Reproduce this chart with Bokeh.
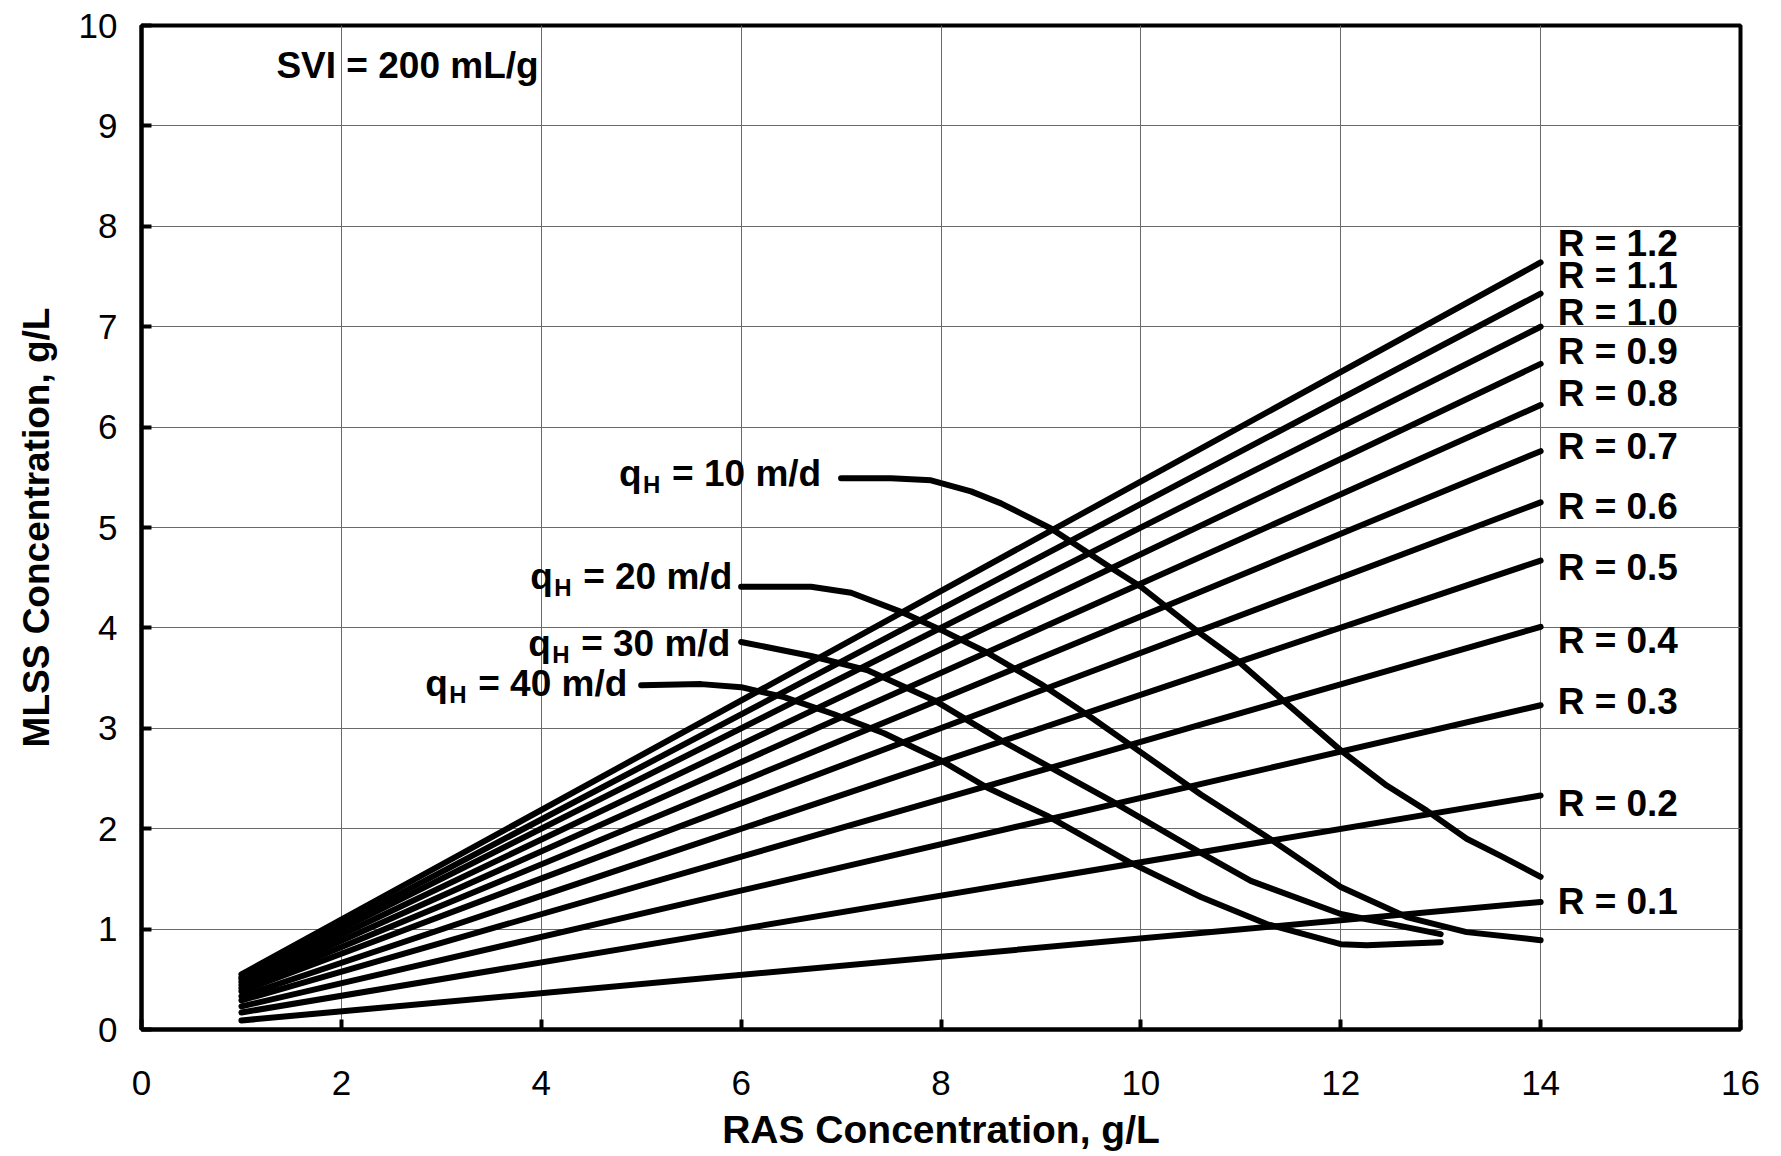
from bokeh.plotting import figure
from bokeh.models import ColumnDataSource
from bokeh.core.properties import value
from bokeh.embed import file_html
from bokeh.resources import INLINE

# ---------------- data ----------------
x_ticks = [0, 2, 4, 6, 8, 10, 12, 14, 16]
y_ticks = [0, 1, 2, 3, 4, 5, 6, 7, 8, 9, 10]

# straight operating lines for each recycle ratio R
ras_ends = [1.0, 14.0]
r_labels = ["R = 1.2", "R = 1.1", "R = 1.0", "R = 0.9", "R = 0.8", "R = 0.7",
            "R = 0.6", "R = 0.5", "R = 0.4", "R = 0.3", "R = 0.2", "R = 0.1"]
mlss_at_start = [0.55, 0.52, 0.50, 0.47, 0.44, 0.41, 0.38, 0.33, 0.29, 0.23, 0.17, 0.09]
mlss_at_end = [7.64, 7.33, 7.00, 6.63, 6.22, 5.76, 5.25, 4.67, 4.01, 3.23, 2.33, 1.27]

# state-point limit curves for each hydraulic loading qH
qh_texts = ["= 10 m/d", "= 20 m/d", "= 30 m/d", "= 40 m/d"]

qh10_ras = [7.0, 7.5, 7.9, 8.3, 8.6, 9.1, 9.7, 10.0, 10.56, 10.96, 11.41, 12.0, 12.46, 12.86, 13.26, 13.6, 14.0]
qh10_mlss = [5.49, 5.49, 5.47, 5.36, 5.24, 4.99, 4.60, 4.41, 3.97, 3.68, 3.29, 2.78, 2.43, 2.18, 1.90, 1.73, 1.52]

qh20_ras = [6.0, 6.7, 7.1, 7.6, 8.0, 8.45, 9.0, 9.5, 9.93, 10.6, 11.26, 12.0, 12.66, 13.26, 14.0]
qh20_mlss = [4.41, 4.41, 4.35, 4.16, 3.98, 3.76, 3.44, 3.11, 2.81, 2.34, 1.92, 1.42, 1.12, 0.97, 0.89]

qh30_ras = [6.0, 6.7, 7.26, 7.93, 8.6, 9.7, 10.6, 11.1, 12.0, 13.0]
qh30_mlss = [3.86, 3.72, 3.58, 3.28, 2.88, 2.28, 1.76, 1.48, 1.15, 0.95]

qh40_ras = [5.0, 5.6, 6.0, 6.43, 6.93, 7.43, 8.0, 8.46, 9.06, 9.88, 10.6, 11.26, 12.0, 12.26, 13.0]
qh40_mlss = [3.43, 3.44, 3.41, 3.31, 3.14, 2.95, 2.68, 2.41, 2.13, 1.67, 1.32, 1.05, 0.85, 0.84, 0.87]

svi_text = "SVI = 200 mL/g"
x_title = "RAS Concentration, g/L"
y_title = "MLSS Concentration, g/L"

# ---------------- layout / style ----------------
W, H = 1781, 1156
FONT = "Liberation Sans"
BASE_FIX = -12   # screen-px correction for text baseline placement

p = figure(width=W, height=H, x_range=(0, 16), y_range=(0, 10),
           output_backend="svg", toolbar_location=None,
           min_border_left=141, min_border_right=W - 1740,
           min_border_top=25, min_border_bottom=H - 1029,
           background_fill_color="white", border_fill_color="white")

p.outline_line_color = "black"
p.outline_line_width = 4
p.outline_line_alpha = 1.0

p.xaxis.ticker = x_ticks
p.yaxis.ticker = y_ticks
p.xgrid.ticker = x_ticks
p.ygrid.ticker = y_ticks
p.grid.grid_line_color = "#6a6a6a"
p.grid.grid_line_width = 1

p.xaxis.axis_label = x_title
p.yaxis.axis_label = y_title

for ax in (p.xaxis[0], p.yaxis[0]):
    ax.axis_line_width = 4
    ax.axis_line_color = "black"
    ax.major_tick_line_width = 4
    ax.major_tick_line_color = "black"
    ax.major_tick_in = 10
    ax.major_tick_out = 0
    ax.minor_tick_line_color = None
    ax.major_label_text_font = FONT
    ax.major_label_text_font_size = "35px"
    ax.major_label_text_color = "black"
    ax.axis_label_text_font = FONT
    ax.axis_label_text_font_style = "bold"
    ax.axis_label_text_color = "black"

p.xaxis.axis_label_text_font_size = "39px"
p.yaxis.axis_label_text_font_size = "37px"

p.xaxis.major_label_standoff = 41
p.xaxis.axis_label_text_line_height = 1.0
p.xaxis.axis_label_standoff = 10
p.yaxis.major_label_standoff = 24
p.yaxis.axis_label_standoff = 19

LW = 6
# R lines
for s, e in zip(mlss_at_start, mlss_at_end):
    p.line(ras_ends, [s, e], line_width=LW, line_color="black",
           line_cap="round", line_join="round")

# qH curves
curves = [(qh10_ras, qh10_mlss), (qh20_ras, qh20_mlss),
          (qh30_ras, qh30_mlss), (qh40_ras, qh40_mlss)]
for cx, cy in curves:
    p.line(cx, cy, line_width=LW, line_color="black",
           line_cap="round", line_join="round")

# R labels at the right end of each line
r_dy = [-7, -6, -2, 0, 0, 7, 16, 19, 26, 8, 20, 12]
r_src = ColumnDataSource(dict(x=[ras_ends[-1]] * len(r_labels), y=mlss_at_end,
                              text=r_labels, dy=[d + BASE_FIX for d in r_dy]))
p.text(x="x", y="y", text="text", source=r_src, x_offset=17, y_offset="dy",
       text_font=value(FONT), text_font_style="bold", text_font_size="37px",
       text_color="black", text_align="left", text_baseline="alphabetic")

# qH labels: "q" + subscript "H" + "= NN m/d", placed left of each curve start
q_left = [-222, -211, -213, -216]
q_dy = [7, 2, 14, 10]
starts_x = [c[0][0] for c in curves]
starts_y = [c[1][0] for c in curves]
q_src = ColumnDataSource(dict(x=starts_x, y=starts_y, text=qh_texts,
                              qx=q_left, hx=[v + 24 for v in q_left],
                              ex=[v + 53 for v in q_left],
                              dy=[v + BASE_FIX for v in q_dy],
                              hdy=[v + 7 - 8 for v in q_dy]))
p.text(x="x", y="y", text=value("q"), source=q_src, x_offset="qx", y_offset="dy",
       text_font=value(FONT), text_font_style="bold", text_font_size="37px",
       text_color="black", text_align="left", text_baseline="alphabetic")
p.text(x="x", y="y", text=value("H"), source=q_src, x_offset="hx", y_offset="hdy",
       text_font=value(FONT), text_font_style="bold", text_font_size="24px",
       text_color="black", text_align="left", text_baseline="alphabetic")
p.text(x="x", y="y", text="text", source=q_src, x_offset="ex", y_offset="dy",
       text_font=value(FONT), text_font_style="bold", text_font_size="37px",
       text_color="black", text_align="left", text_baseline="alphabetic")

# SVI annotation
p.text(x=[1.35], y=[9.45], text=[svi_text], y_offset=-15,
       text_font=value(FONT), text_font_style="bold", text_font_size="37px",
       text_color="black", text_align="left", text_baseline="alphabetic")

open("out.html", "w").write(file_html(p, INLINE))
